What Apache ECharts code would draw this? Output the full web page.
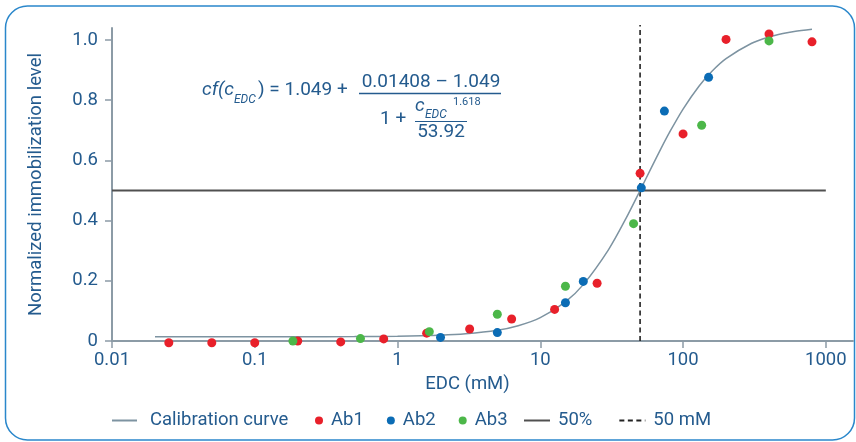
<!DOCTYPE html>
<html>
<head>
<meta charset="utf-8">
<script src="https://cdn.jsdelivr.net/npm/echarts@6/dist/echarts.min.js"></script>
<style>html,body{margin:0;padding:0;background:#fff;}#c{width:856px;height:442px;}</style>
</head>
<body>
<div id="c"></div>
<script>
// ---- data ----
const calibX = [0.02, 0.05, 0.1, 0.2, 0.5, 1, 2, 3, 5, 7, 10, 15, 20, 30, 40, 50, 60, 70, 80, 100, 130, 160, 200, 300, 400, 500, 600, 800];
const calibY = [0.0141, 0.0141, 0.0141, 0.0142, 0.0146, 0.0157, 0.0191, 0.0237, 0.0357, 0.0508, 0.0777, 0.1301, 0.1873, 0.3030, 0.4090, 0.5001, 0.5762, 0.6393, 0.6914, 0.7707, 0.8482, 0.8971, 0.9382, 0.9884, 1.0101, 1.0216, 1.0285, 1.0360];
const ab1X = [0.025, 0.05, 0.1, 0.2, 0.4, 0.8, 1.6, 3.2, 6.3, 12.6, 25, 50, 100, 200, 400, 800];
const ab1Y = [-0.006, -0.006, -0.006, 0.0, -0.003, 0.007, 0.026, 0.040, 0.073, 0.105, 0.192, 0.557, 0.688, 1.002, 1.020, 0.994];
const ab2X = [2, 5, 15, 20, 51, 74, 151];
const ab2Y = [0.012, 0.028, 0.127, 0.198, 0.509, 0.764, 0.876];
const ab3X = [0.185, 0.55, 1.67, 5, 15, 45, 135, 400];
const ab3Y = [0.0, 0.008, 0.031, 0.089, 0.182, 0.390, 0.717, 0.997];
const halfX = [0.01, 1000];
const halfY = [0.5, 0.5];
const mMX = [50, 50];
const mMY = [0, 1.05];
const xTicks = [0.01, 0.1, 1, 10, 100, 1000];
const xTickLabels = ['0.01', '0.1', '1', '10', '100', '1000'];
const yTicks = [0, 0.2, 0.4, 0.6, 0.8, 1.0];
const yTickLabels = ['0', '0.2', '0.4', '0.6', '0.8', '1.0'];

const zip = (a, b) => a.map((v, i) => [v, b[i]]);
const TXT = '#245b8e';
const AX = '#8c9ba6';
const FONT = 'Roboto';

const chart = echarts.init(document.getElementById('c'), null, {renderer: 'canvas'});

function lbl(list, labels) {
  return function (v) {
    for (let i = 0; i < list.length; i++) {
      if (Math.abs(v - list[i]) < 1e-6 * Math.max(1, list[i])) return labels[i];
    }
    return '';
  };
}

const fs = 18.5;
const legendText = {color: TXT, fontSize: fs, fontFamily: FONT};

chart.setOption({
  animation: false,
  grid: {left: 112, right: 3, top: 28, bottom: 101, containLabel: false},
  xAxis: {
    type: 'log', logBase: 10, min: 0.01, max: 1550,
    axisLine: {show: true, onZero: false, lineStyle: {color: AX, width: 2}},
    axisTick: {show: true, length: 7, lineStyle: {color: AX, width: 1.5}, customValues: xTicks},
    axisLabel: {customValues: xTicks, formatter: lbl(xTicks, xTickLabels), fontSize: fs, color: TXT, fontFamily: FONT, margin: 10},
    splitLine: {show: false},
    minorTick: {show: false},
    name: 'EDC (mM)', nameLocation: 'middle', nameGap: 32,
    nameTextStyle: {fontSize: fs, color: TXT, fontFamily: FONT, padding: [0, 30, 0, 0]}
  },
  yAxis: {
    type: 'value', min: 0, max: 1.04,
    axisLine: {show: true, lineStyle: {color: AX, width: 2}},
    axisTick: {show: true, length: 7, lineStyle: {color: AX, width: 1.5}, customValues: yTicks},
    axisLabel: {customValues: yTicks, formatter: lbl(yTicks, yTickLabels), fontSize: fs, color: TXT, fontFamily: FONT, margin: 14},
    splitLine: {show: false},
    name: 'Normalized immobilization level', nameLocation: 'middle', nameGap: 66,
    nameTextStyle: {fontSize: fs, color: TXT, fontFamily: FONT}
  },
  legend: [
    {data: ['Calibration curve'], left: 106, top: 406, itemWidth: 25, itemHeight: 10, itemGap: 20,
     itemStyle: {opacity: 0},
     textStyle: Object.assign({padding: [0, 0, 0, 8]}, legendText)},
    {data: ['Ab1', 'Ab2', 'Ab3'], left: 310, top: 406, itemWidth: 8, itemHeight: 8, itemGap: 23,
     textStyle: Object.assign({padding: [0, 0, 0, 3]}, legendText)},
    {data: ['50%', '50 mM'], left: 518, top: 406, itemWidth: 26, itemHeight: 10, itemGap: 26,
     itemStyle: {opacity: 0},
     textStyle: Object.assign({padding: [0, 0, 0, 3]}, legendText)}
  ],
  series: [
    {name: '50%', type: 'line', data: zip(halfX, halfY), symbol: 'none', z: 1,
     lineStyle: {color: '#505050', width: 2}, itemStyle: {color: '#505050'}},
    {name: '50 mM', type: 'line', data: zip(mMX, mMY), symbol: 'none', z: 1, clip: false,
     lineStyle: {color: '#222222', width: 1.6, type: [5, 3.5]}, itemStyle: {color: '#222222'}},
    {name: 'Calibration curve', type: 'line', data: zip(calibX, calibY), smooth: 0.3, symbol: 'none', z: 2,
     lineStyle: {color: '#7d93a1', width: 1.5}, itemStyle: {color: '#7d93a1'}},
    {name: 'Ab1', type: 'scatter', data: zip(ab1X, ab1Y), symbolSize: 9, z: 4, clip: false, itemStyle: {color: '#e8202a', opacity: 1}},
    {name: 'Ab2', type: 'scatter', data: zip(ab2X, ab2Y), symbolSize: 9, z: 4, clip: false, itemStyle: {color: '#0b6cb5', opacity: 1}},
    {name: 'Ab3', type: 'scatter', data: zip(ab3X, ab3Y), symbolSize: 9, z: 4, clip: false, itemStyle: {color: '#4cb749', opacity: 1}}
  ],
  graphic: [
    {type: 'rect', shape: {x: 5.5, y: 6, width: 849, height: 434, r: 22}, silent: true,
     style: {fill: 'none', stroke: '#2a87cb', lineWidth: 1.5}},
    {type: 'text', x: 202, y: 90, style: {text: 'cf(c', font: 'italic 19px Roboto', fill: TXT, verticalAlign: 'middle'}},
    {type: 'text', x: 234, y: 100, style: {text: 'EDC', font: 'italic 12px Roboto', fill: TXT, verticalAlign: 'middle'}},
    {type: 'text', x: 258, y: 90, style: {text: ') = 1.049 +', font: '19px Roboto', fill: TXT, verticalAlign: 'middle'}},
    {type: 'line', shape: {x1: 359, y1: 93.5, x2: 501, y2: 93.5}, style: {stroke: TXT, lineWidth: 1.3}},
    {type: 'text', x: 431, y: 82, style: {text: '0.01408 \u2013 1.049', font: '19px Roboto', fill: TXT, align: 'center', verticalAlign: 'middle'}},
    {type: 'text', x: 380, y: 119, style: {text: '1 +', font: '19px Roboto', fill: TXT, verticalAlign: 'middle'}},
    {type: 'text', x: 415, y: 106, style: {text: 'c', font: 'italic 19px Roboto', fill: TXT, verticalAlign: 'middle'}},
    {type: 'text', x: 425, y: 115, style: {text: 'EDC', font: 'italic 12px Roboto', fill: TXT, verticalAlign: 'middle'}},
    {type: 'text', x: 453, y: 102, style: {text: '1.618', font: '11px Roboto', fill: TXT, verticalAlign: 'middle'}},
    {type: 'line', shape: {x1: 415, y1: 121.5, x2: 467, y2: 121.5}, style: {stroke: TXT, lineWidth: 1.2}},
    {type: 'text', x: 441, y: 132, style: {text: '53.92', font: '19px Roboto', fill: TXT, align: 'center', verticalAlign: 'middle'}}
  ]
});
</script>
</body>
</html>
